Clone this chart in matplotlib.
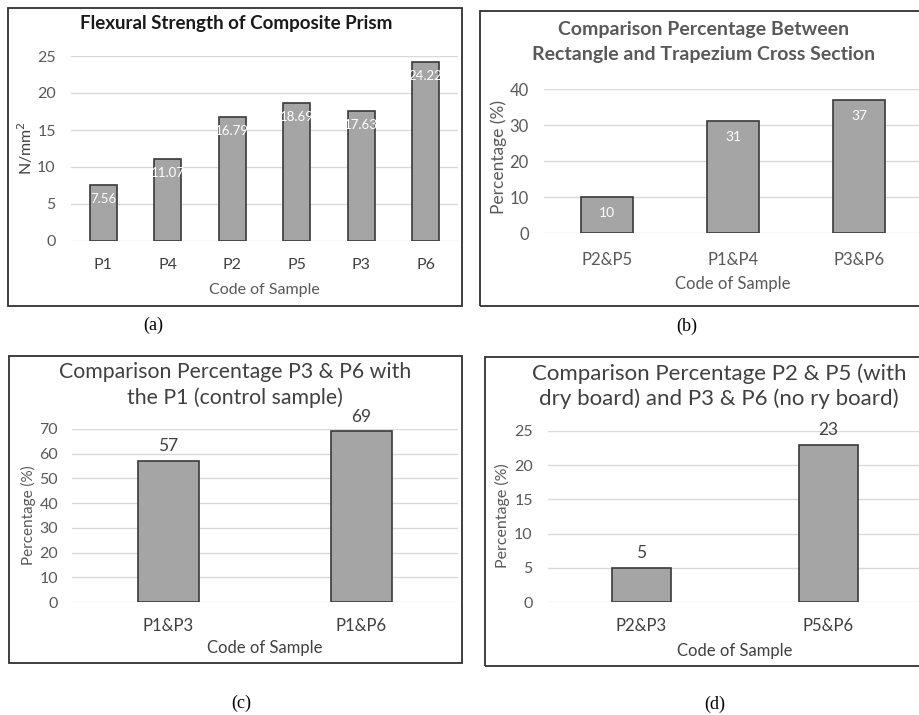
import matplotlib
matplotlib.use("Agg")
import matplotlib.pyplot as plt
from matplotlib.patches import Rectangle

plt.rcParams['font.family'] = ['Lato', 'DejaVu Sans']

# ---------------- data ----------------
a_cats = ["P1", "P4", "P2", "P5", "P3", "P6"]
a_vals = [7.56, 11.07, 16.79, 18.69, 17.63, 24.22]
b_cats = ["P2&P5", "P1&P4", "P3&P6"]
b_vals = [10, 31, 37]
c_cats = ["P1&P3", "P1&P6"]
c_vals = [57, 69]
d_cats = ["P2&P3", "P5&P6"]
d_vals = [5, 23]

a_title = "Flexural Strength of Composite Prism"
b_title = "Comparison Percentage Between\nRectangle and Trapezium Cross Section"
c_title = "Comparison Percentage P3 & P6 with\nthe P1 (control sample)"
d_title = "Comparison Percentage P2 & P5 (with\ndry board) and P3 & P6 (no ry board)"

W, H = 919, 715
fig = plt.figure(figsize=(W / 100, H / 100), dpi=100)

BAR = "#A5A5A5"
EDGE = "#3a3a3a"
GRID = "#D9D9D9"
TICK = "#595959"
DARK = "#404040"


def fx(x):
    return x / W


def fy(y):
    return 1 - y / H


def add_ax(left, top, right, bottom):
    ax = fig.add_axes([fx(left), fy(bottom), (right - left) / W, (bottom - top) / H])
    ax._px = (left, top, right, bottom)
    return ax


def box(left, top, right, bottom):
    fig.patches.append(Rectangle((fx(left), fy(bottom)), (right - left) / W, (bottom - top) / H,
                                 transform=fig.transFigure, fill=False, edgecolor="#303030", lw=1.3))


def style(ax, cats, ymax, step, xtick_col, xtick_size, ytick_size, xpad, ypad):
    ax.set_xlim(-0.5, len(cats) - 0.5)
    ax.set_ylim(0, ymax)
    ax.set_yticks(range(0, ymax + 1, step))
    ax.set_xticks(range(len(cats)))
    ax.set_xticklabels(cats, color=xtick_col, fontsize=xtick_size)
    ax.tick_params(axis='y', colors=TICK, labelsize=ytick_size, length=0, pad=ypad)
    ax.tick_params(axis='x', length=0, pad=xpad)
    for s in ax.spines.values():
        s.set_visible(False)
    ax.grid(axis='y', color=GRID, lw=1)
    ax.set_axisbelow(True)
    ax.set_facecolor('none')


def place_labels(ax, ylab_x, ylab_y, xlab_y):
    left, top, right, bottom = ax._px
    w, h = right - left, bottom - top
    ax.yaxis.set_label_coords((ylab_x - left) / w, (bottom - ylab_y) / h)
    ax.yaxis.label.set_va('center')
    ax.xaxis.set_label_coords(0.5, (bottom - xlab_y) / h)
    ax.xaxis.label.set_va('center')


# ---------- (a) ----------
box(8, 8, 462, 306)
axa = add_ax(71, 56, 458, 241)
xa = range(len(a_cats))
axa.bar(xa, a_vals, width=0.42, color=BAR, edgecolor=EDGE, lw=1.2)
style(axa, a_cats, 25, 5, DARK, 11.5, 11.5, 12.5, 11)
for x, v in zip(xa, a_vals):
    axa.annotate(f"{v:.2f}", (x, v), xytext=(0, -6), textcoords="offset points",
                 ha="center", va="top", color="white", fontsize=9.5)
axa.set_ylabel("N/mm$^2$", color=DARK, fontsize=11.5)
axa.set_xlabel("Code of Sample", color=TICK, fontsize=11.5)
place_labels(axa, 25, 148, 290)
fig.text(fx(236), fy(24), a_title, ha="center", va="center", fontsize=13.5,
         fontweight="bold", color="#1a1a1a")
fig.text(fx(153), fy(325), "(a)", ha="center", va="center", fontsize=13,
         family="Liberation Serif")

# ---------- (b) ----------
box(480, 11, 925, 306)
axb = add_ax(544, 89, 922, 233)
xb = range(len(b_cats))
axb.bar(xb, b_vals, width=0.41, color=BAR, edgecolor=EDGE, lw=1.2)
style(axb, b_cats, 40, 10, TICK, 12, 12, 13.5, 11)
for x, v in zip(xb, b_vals):
    axb.annotate(f"{v}", (x, v), xytext=(0, -7), textcoords="offset points",
                 ha="center", va="top", color="white", fontsize=10)
axb.set_ylabel("Percentage (%)", color=TICK, fontsize=12.5)
axb.set_xlabel("Code of Sample", color=TICK, fontsize=12)
place_labels(axb, 499, 157, 284)
fig.text(fx(704), fy(42), b_title, ha="center", va="center", fontsize=14,
         fontweight="bold", color=TICK, linespacing=1.6)
fig.text(fx(687), fy(326), "(b)", ha="center", va="center", fontsize=13,
         family="Liberation Serif")

# ---------- (c) ----------
box(9, 356, 462, 663)
axc = add_ax(72, 429, 458, 602)
xc = range(len(c_cats))
axc.bar(xc, c_vals, width=0.32, color=BAR, edgecolor=EDGE, lw=1.2)
style(axc, c_cats, 70, 10, DARK, 12, 11.5, 11.5, 10)
for x, v in zip(xc, c_vals):
    axc.annotate(f"{v}", (x, v), xytext=(0, 5), textcoords="offset points",
                 ha="center", va="bottom", color=DARK, fontsize=12.5)
axc.set_ylabel("Percentage (%)", color=TICK, fontsize=11)
axc.set_xlabel("Code of Sample", color=DARK, fontsize=12)
place_labels(axc, 28, 515, 648)
fig.text(fx(235), fy(385), c_title, ha="center", va="center", fontsize=15.3,
         color=DARK, linespacing=1.3)
fig.text(fx(241), fy(703), "(c)", ha="center", va="center", fontsize=13,
         family="Liberation Serif")

# ---------- (d) ----------
box(485, 357, 925, 666)
axd = add_ax(548, 431, 922, 602)
xd = range(len(d_cats))
axd.bar(xd, d_vals, width=0.32, color=BAR, edgecolor=EDGE, lw=1.2)
style(axd, d_cats, 25, 5, DARK, 12, 11.5, 11.5, 11)
for x, v in zip(xd, d_vals):
    axd.annotate(f"{v}", (x, v), xytext=(0, 5), textcoords="offset points",
                 ha="center", va="bottom", color=DARK, fontsize=12.5)
axd.set_ylabel("Percentage (%)", color=TICK, fontsize=11.5)
axd.set_xlabel("Code of Sample", color=DARK, fontsize=12)
place_labels(axd, 502, 516, 651)
fig.text(fx(719), fy(386), d_title, ha="center", va="center", fontsize=16,
         color=DARK, linespacing=1.3)
fig.text(fx(715), fy(704), "(d)", ha="center", va="center", fontsize=13,
         family="Liberation Serif")

fig.savefig("out.png", dpi=100)
